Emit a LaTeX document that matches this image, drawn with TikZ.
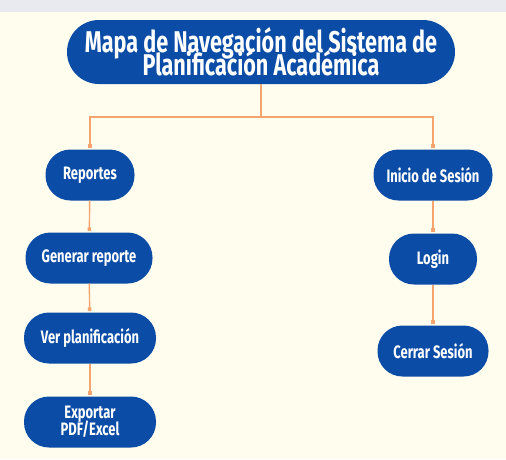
\documentclass[tikz,border=0pt]{standalone}
\usepackage{fontspec}
\setmainfont{Fira Sans}[FakeStretch=0.72]
\usepackage{xcolor}
\usetikzlibrary{arrows.meta,positioning}
\definecolor{navy}{HTML}{0B4CA6}
\definecolor{cream}{HTML}{FEFDEE}
\definecolor{band}{HTML}{E9EAF0}
\definecolor{link}{HTML}{F4A46E}
\newcommand{\tightlines}{\setlength{\lineskiplimit}{-30pt}}

\begin{document}
\begin{tikzpicture}[x=1pt,y=-1pt,
  pill/.style={rounded corners=25pt,fill=navy,text=white,inner sep=0pt,
    font=\fontsize{18}{16.5}\selectfont\bfseries\tightlines,
    align=center,minimum height=51pt},
  go/.style={draw=link,line width=1.4pt,-{Square[length=3.5pt,width=3.5pt]},shorten >=1.5pt}]
  % page and top band
  \fill[cream] (0,0) rectangle (506,459);
  \fill[band] (0,0) rectangle (506,12);
  \useasboundingbox (0,0) rectangle (506,459);
  % title
  \node[pill,rounded corners=32pt,minimum width=388pt,minimum height=64pt,
    font=\fontsize{30}{23}\selectfont\bfseries\tightlines] (map) at (261,52)
    {Mapa de Navegación del Sistema de\\Planificación Académica};
  % left branch
  \node[pill,minimum width=89pt] (rep) at (90,175) {Reportes};
  \node[pill,minimum width=127pt] (gen) at (89,258) {Generar reporte};
  \node[pill,minimum width=132pt] (ver) at (90,338) {Ver planificación};
  \node[pill,minimum width=132pt] (exp) at (90,422) {Exportar\\PDF/Excel};
  % right branch
  \node[pill,minimum width=119pt] (ini) at (433,175) {Inicio de Sesión};
  \node[pill,minimum width=88pt] (log) at (433,259) {Login};
  \node[pill,minimum width=111pt] (cer) at (433,351) {Cerrar Sesión};
  % connectors
  \coordinate (fork) at (261,117);
  \draw[go] (map.south) -- (fork) -| (rep.north);
  \draw[go] (fork) -| (ini.north);
  \draw[go] (rep) -- (gen);
  \draw[go] (gen) -- (ver);
  \draw[go] (ver) -- (exp);
  \draw[go] (ini) -- (log);
  \draw[go] (log) -- (cer);
\end{tikzpicture}
\end{document}
